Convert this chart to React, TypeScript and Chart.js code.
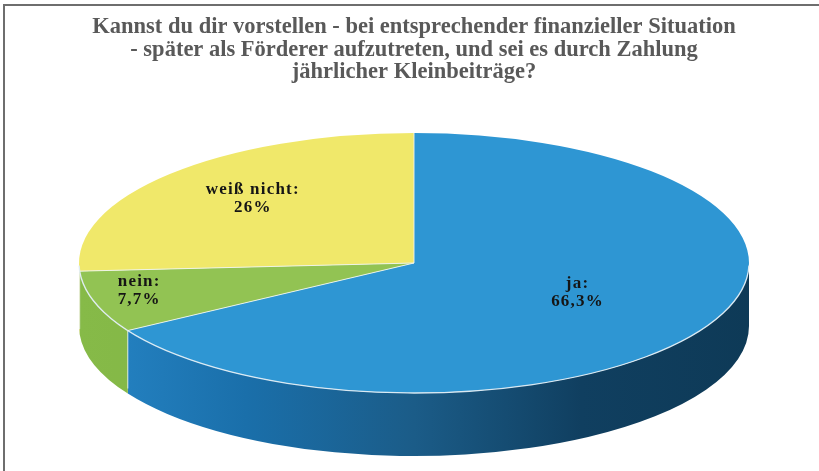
import React, { useEffect, useRef } from "react";
import { Chart, registerables } from "chart.js";

Chart.register(...registerables);

// ---- data ----
const categories = ["ja", "nein", "weiß nicht"];
const shares = [66.3, 7.7, 26];
const titleLines = [
  "Kannst du dir vorstellen - bei entsprechender finanzieller Situation",
  "- später als Förderer aufzutreten, und sei es durch Zahlung",
  "jährlicher Kleinbeiträge?",
];

// ---- styles ----
const topColors = ["#2E96D3", "#92C353", "#F0E86A"];
const wallStops: string[][] = [
  ["#2685C6", "#1A6FAA", "#1B5C88", "#103F60", "#0E3A57"],
  ["#86BA48", "#74A83A"],
  ["#D6CE58", "#C9C150"],
];
const ASPECT = 335 / 130; // horizontal stretch of the tilted pie
const DEPTH = 63; // thickness of the 3D side wall
const SERIF = "'Liberation Serif', 'Times New Roman', serif";

const pie3d = {
  id: "pie3d",
  beforeDatasetsDraw(chart: any) {
    const arcs = chart.getDatasetMeta(0).data;
    if (!arcs.length) return;
    const { x: cx, y: cy, outerRadius: R } = arcs[0].getProps(["x", "y", "outerRadius"], true);
    const rx = R * ASPECT;
    const ry = R;
    const ctx = chart.ctx;
    ctx.save();
    arcs.forEach((arc: any, i: number) => {
      const { startAngle, endAngle } = arc.getProps(["startAngle", "endAngle"], true);
      const a1 = Math.max(startAngle, 0);
      const a2 = Math.min(endAngle, Math.PI);
      if (a2 <= a1) return;
      ctx.beginPath();
      ctx.ellipse(cx, cy, rx, ry, 0, a1, a2, false);
      ctx.ellipse(cx, cy + DEPTH, rx, ry, 0, a2, a1, true);
      ctx.closePath();
      const g = ctx.createLinearGradient(cx - rx, 0, cx + rx, 0);
      const stops = wallStops[i % wallStops.length];
      stops.forEach((c, k) => g.addColorStop(stops.length === 1 ? 0 : k / (stops.length - 1), c));
      ctx.fillStyle = g;
      ctx.fill();
    });
    // separators on the wall
    arcs.forEach((arc: any) => {
      const { startAngle } = arc.getProps(["startAngle"], true);
      const a = startAngle;
      if (a > 0.01 && a < Math.PI - 0.01) {
        const px = cx + rx * Math.cos(a);
        const py = cy + ry * Math.sin(a);
        ctx.beginPath();
        ctx.moveTo(px, py);
        ctx.lineTo(px, py + DEPTH * 0.92);
        ctx.strokeStyle = "rgba(235,245,250,0.8)";
        ctx.lineWidth = 1;
        ctx.stroke();
      }
    });
    ctx.restore();
    // stretch the flat pie into an ellipse
    ctx.save();
    ctx.translate(cx, cy);
    ctx.scale(ASPECT, 1);
    ctx.translate(-cx, -cy);
  },
  afterDatasetsDraw(chart: any) {
    const ctx = chart.ctx;
    ctx.restore();
    const arcs = chart.getDatasetMeta(0).data;
    if (!arcs.length) return;
    const { x: cx, y: cy, outerRadius: R } = arcs[0].getProps(["x", "y", "outerRadius"], true);
    const rx = R * ASPECT;
    const ry = R;
    ctx.save();
    // front rim highlight
    ctx.beginPath();
    ctx.ellipse(cx, cy, rx, ry, 0, 0.02, Math.PI - 0.02, false);
    ctx.strokeStyle = "rgba(225,238,245,0.95)";
    ctx.lineWidth = 1.3;
    ctx.stroke();
    // radial separators
    arcs.forEach((arc: any) => {
      const { startAngle } = arc.getProps(["startAngle"], true);
      ctx.beginPath();
      ctx.moveTo(cx, cy);
      ctx.lineTo(cx + rx * Math.cos(startAngle), cy + ry * Math.sin(startAngle));
      ctx.strokeStyle = "rgba(240,245,240,0.9)";
      ctx.lineWidth = 1;
      ctx.stroke();
    });
    // labels
    const total = shares.reduce((s, v) => s + v, 0);
    ctx.font = `bold 17px ${SERIF}`;
    (ctx as any).letterSpacing = "1.2px";
    ctx.fillStyle = "#151515";
    ctx.textAlign = "center";
    ctx.textBaseline = "middle";
    arcs.forEach((arc: any, i: number) => {
      const { startAngle, endAngle } = arc.getProps(["startAngle", "endAngle"], true);
      const mid = (startAngle + endAngle) / 2;
      const share = shares[i] / total;
      const f = share < 0.1 ? 0.86 : share < 0.5 ? 0.66 : 0.56;
      const lx = cx + rx * f * Math.cos(mid);
      const ly = cy + ry * f * Math.sin(mid) - 6;
      const valueText = shares[i].toLocaleString("de-DE") + "%";
      ctx.fillText(categories[i] + ":", lx, ly - 9);
      ctx.fillText(valueText, lx, ly + 9);
    });
    ctx.restore();
  },
};

export default function App() {
  const ref = useRef<HTMLCanvasElement | null>(null);
  useEffect(() => {
    if (!ref.current) return;
    const chart = new Chart(ref.current, {
      type: "pie",
      data: {
        labels: categories,
        datasets: [
          {
            data: shares,
            backgroundColor: topColors,
            borderWidth: 0,
            hoverOffset: 0,
          },
        ],
      },
      options: {
        responsive: false,
        animation: false,
        events: [],
        layout: { padding: { left: 9, right: 0, top: 0, bottom: 78 } },
        plugins: {
          legend: { display: false },
          tooltip: { enabled: false },
          title: {
            display: true,
            text: titleLines,
            color: "#595959",
            font: { family: SERIF, size: 22.5, weight: "bold", lineHeight: 1.0 },
            padding: { top: 16, bottom: 49.5 },
          },
        },
      },
      plugins: [pie3d],
    });
    return () => chart.destroy();
  }, []);
  return (
    <div style={{ position: "fixed", left: 0, top: 0, width: 819, height: 471, background: "#fff", overflow: "hidden" }}>
      <canvas ref={ref} width={819} height={471} style={{ display: "block" }} />
      <div
        style={{
          position: "absolute",
          left: 3,
          top: 4,
          width: 830,
          height: 480,
          borderTop: "2px solid #6e6e6e",
          borderLeft: "2px solid #6e6e6e",
          pointerEvents: "none",
        }}
      />
    </div>
  );
}
